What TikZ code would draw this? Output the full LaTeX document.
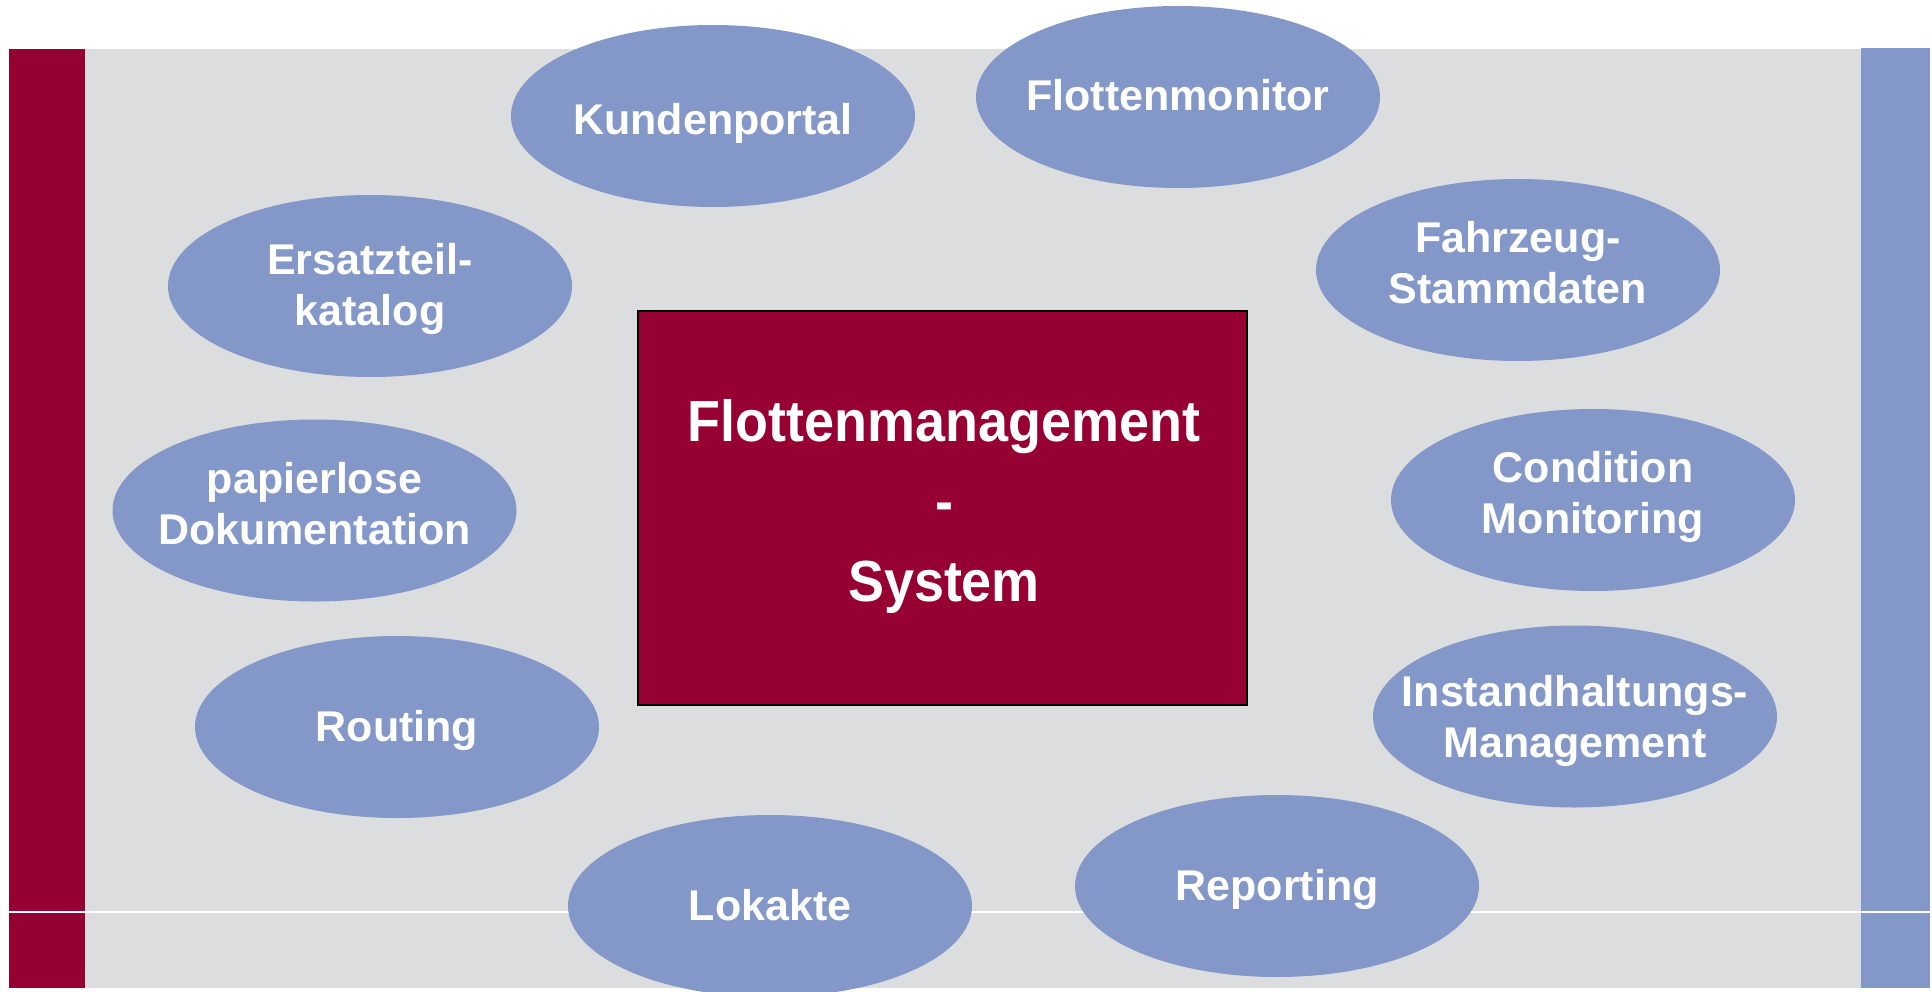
\documentclass[tikz,border=0pt]{standalone}
\usepackage{fontspec}
\setmainfont{Liberation Sans}
\newfontfamily\condfont[FakeStretch=0.93]{Liberation Sans}
\usetikzlibrary{shapes.geometric}
\definecolor{fmred}{RGB}{150,0,51}
\definecolor{fmblue}{RGB}{131,152,200}
\definecolor{fmgray}{RGB}{220,221,223}
\begin{document}
\begin{tikzpicture}[x=1pt,y=-1pt,
  bubble/.style={ellipse, fill=fmblue, draw=none, minimum width=404pt,
    minimum height=182pt, inner xsep=-200pt, inner ysep=-80pt, align=center, text=white,
    font=\bfseries\fontsize{43}{51}\selectfont},
  oneline/.style={text height=28pt, text depth=0pt},
  twoline/.style={text depth=15pt},
  sysbox/.style={rectangle, draw=black, line width=2.5pt, fill=fmred,
    minimum width=609pt, minimum height=394pt, inner sep=0pt},
  systext/.style={anchor=base, text=white, inner sep=0pt,
    font=\condfont\bfseries\fontsize{58}{70}\selectfont}
]
\useasboundingbox (0,0) rectangle (1932,992);
\clip (0,0) rectangle (1932,992);
% background
\fill[fmgray] (85,49) rectangle (1861,988);
\fill[fmred] (9,49) rectangle (85,988);
\fill[fmblue] (1861,48) rectangle (1930,988);
\draw[white, line width=1.3pt] (9,912) -- (1930,912);
% bubbles
\node[bubble, oneline, text height=38pt] (kunden) at (713,116) {Kundenportal};
\node[bubble, oneline] (flmon) at (1178,97) {Flottenmonitor};
\node[bubble, twoline, text depth=4pt] (ersatz) at (370,286) {Ersatzteil-\\katalog};
\node[bubble, twoline] (fahrz) at (1518,270) {Fahrzeug-\\Stammdaten};
\node[bubble, twoline] (papier) at (314.5,510.5) {papierlose\\Dokumentation};
\node[bubble, twoline] (cond) at (1593,500) {Condition\\Monitoring};
\node[bubble, oneline] (routing) at (397,727) {Routing};
\node[bubble, twoline, text depth=-2pt] (instand) at (1575,716.5) {Instandhaltungs-\\Management};
\node[bubble, oneline] (lokakte) at (770,906) {Lokakte};
\node[bubble, oneline] (report) at (1277,886) {Reporting};
% central system
\node[sysbox] (sys) at (942.5,508) {};
\node[systext] (fm1) at (944,441) {Flottenmanagement};
\node[systext] (fm2) at (944,521) {-};
\node[systext] (fm3) at (944,601) {System};
\end{tikzpicture}
\end{document}
